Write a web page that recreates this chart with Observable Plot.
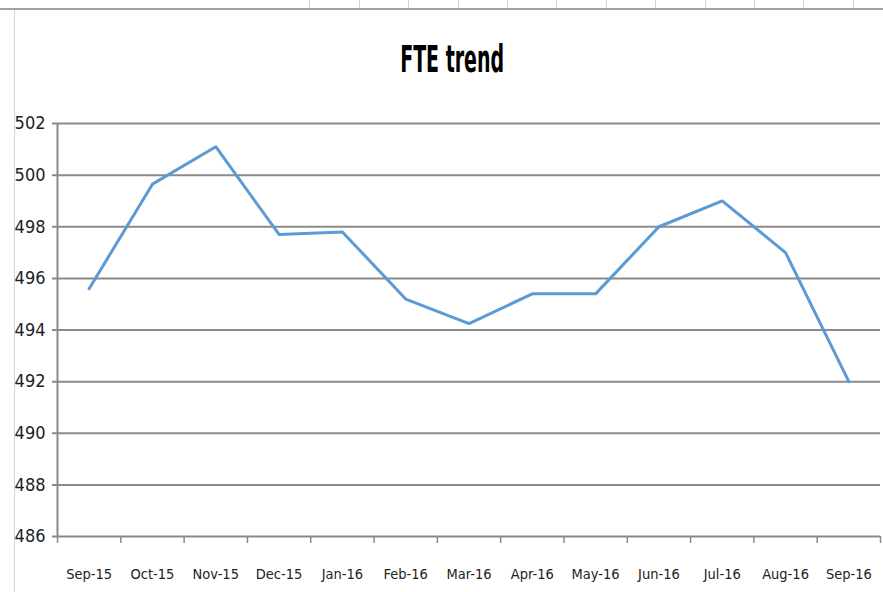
<!DOCTYPE html>
<html>
<head>
<meta charset="utf-8">
<script src="https://cdn.jsdelivr.net/npm/d3@7"></script>
<script src="https://cdn.jsdelivr.net/npm/@observablehq/plot@0.6"></script>
<style>
  html, body { margin: 0; padding: 0; background: #fff; }
  #wrap { position: relative; width: 883px; height: 592px; overflow: hidden; font-family: "Liberation Sans Narrow", "DejaVu Sans Condensed", sans-serif; }
  #topcells { position: absolute; left: 0; top: 0; width: 883px; height: 8px;
    border-bottom: 2px solid #a0a0a0;
    background-image: repeating-linear-gradient(to right, transparent 0, transparent 48.4px, #d4d4d4 48.4px, #d4d4d4 49.4px);
    background-position: 261px 0; background-repeat: no-repeat; background-size: 622px 8px; }
  #leftline { position: absolute; left: 14px; top: 10px; width: 1px; height: 582px; background: #d4d4d4; }
  #title { position: absolute; left: 11px; top: 10px; width: 883px; height: 100px; text-align: center;
    font-weight: bold; font-size: 37px; line-height: 100px; color: #000; }
  #title span { display: inline-block; transform: scaleX(0.57); transform-origin: center; }
  #chart { position: absolute; left: 0; top: 100px; }
</style>
</head>
<body>
<div id="wrap">
  <div id="topcells"></div>
  <div id="leftline"></div>
  <div id="title"><span>FTE trend</span></div>
  <div id="chart"></div>
</div>
<script>
const months = ["Sep-15","Oct-15","Nov-15","Dec-15","Jan-16","Feb-16","Mar-16","Apr-16","May-16","Jun-16","Jul-16","Aug-16","Sep-16"];
const fte = [495.6, 499.65, 501.1, 497.7, 497.8, 495.2, 494.25, 495.4, 495.4, 498.0, 499.0, 497.0, 492.0];
const yTicks = [486, 488, 490, 492, 494, 496, 498, 500, 502];

const data = months.map((m, i) => ({i, month: m, value: fte[i]}));
const idx = months.map((m, i) => i);
const boundaries = months.map((m, i) => i - 0.5).concat([months.length - 0.5]);

const font = '"Liberation Sans Narrow", "DejaVu Sans Condensed", sans-serif';

const chart = Plot.plot({
  width: 883,
  height: 492,
  marginTop: 23,
  marginBottom: 56,
  marginLeft: 57,
  marginRight: 3,
  style: { fontFamily: font, background: "transparent", color: "#222" },
  x: { type: "linear", domain: [-0.5, months.length - 0.5] },
  y: { domain: [486, 502] },
  marks: [
    Plot.ruleY(yTicks, { stroke: "#8a8a8a", strokeWidth: 2, insetLeft: -5 }),
    Plot.ruleX([boundaries[0]], { y1: 486, y2: 502, stroke: "#8a8a8a", strokeWidth: 2 }),
    Plot.ruleX(boundaries, { y1: 486, y2: 486, insetBottom: -7, stroke: "#8a8a8a", strokeWidth: 1.5 }),
    Plot.axisY(yTicks, { tickSize: 0, tickPadding: 12, fontSize: 18, label: null, fill: "#222" }),
    Plot.axisX(idx, { tickSize: 0, tickPadding: 32, fontSize: 14.5, label: null, fill: "#222", tickFormat: i => months[i] }),
    Plot.line(data, { x: "i", y: "value", stroke: "#5B9BD5", strokeWidth: 3, strokeLinejoin: "round" })
  ]
});
document.getElementById("chart").appendChild(chart);
</script>
</body>
</html>
